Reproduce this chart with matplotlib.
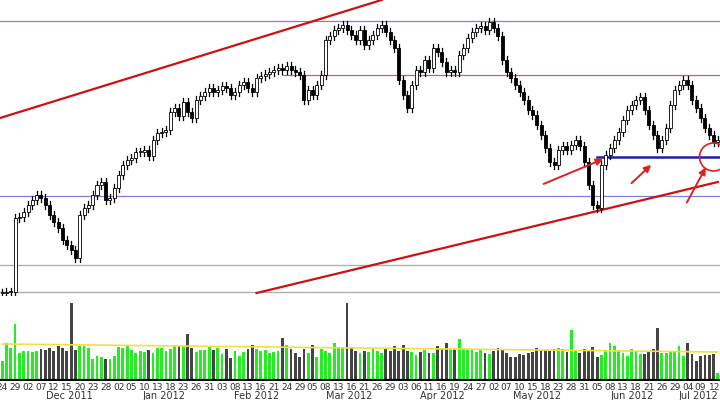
import numpy as np
import pandas as pd
import matplotlib
matplotlib.use("Agg")
import matplotlib.pyplot as plt
from matplotlib.patches import Rectangle, Ellipse

# ── Données (cours, échelle arbitraire) ─────────────────────────────────────
close_px = [293, 292, 292, 218, 217, 212, 205, 200, 195, 198,
            205, 215, 222, 228, 240, 245, 250, 258, 215, 208,
            205, 195, 185, 182, 200, 198, 188, 175, 165, 160,
            158, 152, 152, 150, 156, 140, 133, 132, 130, 112,
            108, 116, 102, 112, 118, 100, 96, 92, 88, 92,
            90, 86, 88, 95, 92, 85, 82, 88, 92, 78,
            76, 74, 72, 70, 68, 70, 66, 70, 72, 75,
            100, 90, 95, 85, 75, 40, 36, 30, 28, 25,
            30, 35, 40, 30, 45, 40, 35, 28, 25, 32,
            40, 48, 80, 95, 108, 85, 70, 72, 60, 68,
            48, 52, 62, 72, 70, 72, 55, 48, 38, 32,
            28, 26, 30, 22, 28, 36, 60, 72, 78, 85,
            92, 100, 110, 115, 125, 135, 148, 162, 165, 150,
            146, 150, 145, 140, 146, 162, 185, 205, 208, 165,
            155, 148, 140, 132, 120, 110, 105, 100, 97, 110,
            125, 135, 148, 140, 128, 105, 90, 85, 80, 85,
            100, 108, 118, 128, 135, 142, 140]
volume = [20, 38, 33, 57, 28, 30, 30, 29, 30, 32,
          31, 33, 30, 35, 33, 30, 78, 31, 35, 35,
          33, 22, 25, 24, 22, 22, 25, 34, 33, 35,
          31, 28, 30, 29, 31, 28, 33, 33, 30, 32,
          35, 35, 35, 47, 33, 29, 31, 31, 34, 31,
          33, 27, 32, 23, 30, 25, 29, 32, 36, 32,
          30, 31, 28, 29, 30, 43, 36, 32, 28, 24,
          32, 28, 36, 24, 32, 30, 28, 38, 33, 34,
          78, 33, 30, 28, 30, 29, 33, 30, 28, 32,
          30, 35, 30, 36, 30, 29, 26, 29, 31, 28,
          28, 35, 33, 38, 32, 32, 42, 33, 32, 31,
          29, 32, 28, 27, 30, 33, 32, 28, 24, 24,
          27, 26, 28, 29, 33, 31, 31, 30, 32, 33,
          32, 29, 51, 30, 28, 32, 30, 34, 24, 26,
          30, 38, 35, 30, 28, 25, 32, 30, 27, 27,
          30, 32, 53, 28, 28, 30, 30, 35, 25, 38,
          27, 20, 25, 26, 26, 27, 8]
vol_ma_start, vol_ma_end = 37, 29

h_blue = [279, 104]          # lignes horizontales bleues
h_red = 225                  # résistance rouge
h_grey = [35, 8]
support_blue = 143
trend_up = [(-0.5, 182), (88, 300)]
trend_low = [(59, 7), (166, 118)]
arrows = [((125, 115), (140, 142)), ((145.5, 115), (151, 137)), ((158.5, 95), (163.5, 135))]
circle = (165, 143)

n = len(close_px)
dates = pd.bdate_range("2011-11-24", periods=n)
close = np.array([300 - c for c in close_px], float)
open_ = np.r_[close[0], close[:-1]]

fig = plt.figure(figsize=(7.2, 4), dpi=100)
ax = fig.add_axes([0, 1 - 296 / 400, 1, 296 / 400])
axv = fig.add_axes([0, 1 - 381 / 400, 1, 80 / 400])
for a in (ax, axv):
    a.set_xlim(-0.5, n - 0.5)
    a.set_xticks([])
    a.set_yticks([])
    for s in a.spines.values():
        s.set_visible(False)
ax.set_ylim(4, 300)

ax.axhline(h_blue[0], color="#8080d0", lw=0.9)
ax.axhline(h_blue[1], color="#8080d0", lw=0.9)
for g in h_grey:
    ax.axhline(g, color="#b0b0b0", lw=1.0)
ax.plot([65, n], [h_red, h_red], color="#d06060", lw=0.9)
ax.plot([138, n], [support_blue, support_blue], color="#2020a0", lw=1.8)
ax.plot(*zip(*trend_up), color="#d01010", lw=1.6)
ax.plot(*zip(*trend_low), color="#d01010", lw=1.6)

w = 0.7
for i in range(n):
    o, c = open_[i], close[i]
    hi, lo = max(o, c) + 4, min(o, c) - 4
    ax.plot([i, i], [lo, hi], color="black", lw=0.9, zorder=2)
    up = c >= o
    ax.add_patch(Rectangle((i - w / 2, min(o, c)), w, max(abs(c - o), 0.8),
                           facecolor="white" if up else "black",
                           edgecolor="black", lw=0.6, zorder=3))

for (x0, y0), (x1, y1) in arrows:
    ax.annotate("", xy=(x1, y1), xytext=(x0, y0),
                arrowprops=dict(arrowstyle="-|>", color="#e02020", lw=1.4, mutation_scale=10))
ax.add_patch(Ellipse(circle, 6.5, 28, fill=False, ec="#e02020", lw=1.2, zorder=4))

# ── Volumes ─────────────────────────────────────────────────────────────────
cols = ["#22ee22" if close[i] >= open_[i] else "#444444" for i in range(n)]
axv.bar(range(n), volume, width=0.65, color=cols)
axv.plot([0, n - 1], [vol_ma_start, vol_ma_end], color="#f0e040", lw=1.2)
axv.set_ylim(0, 80)
axv.axhline(0, color="black", lw=3)

for i in range(0, n, 3):
    xf = (i + 0.5) / n
    edge = xf > 0.985
    fig.text(1.0 if edge else xf, 1 - 387 / 400, f"{dates[i].day:02d}", fontsize=6.5,
             ha="right" if edge else "center", va="center", color="#333333")
for m in sorted(set(dates.to_period("M"))):
    idx = np.where(dates.to_period("M") == m)[0]
    if len(idx) < 8:
        continue
    fig.text((idx.mean() + 0.5) / n, 1 - 396 / 400, m.strftime("%b %Y"), fontsize=7,
             ha="center", va="center", color="#333333")

fig.savefig("out.png", dpi=100)
